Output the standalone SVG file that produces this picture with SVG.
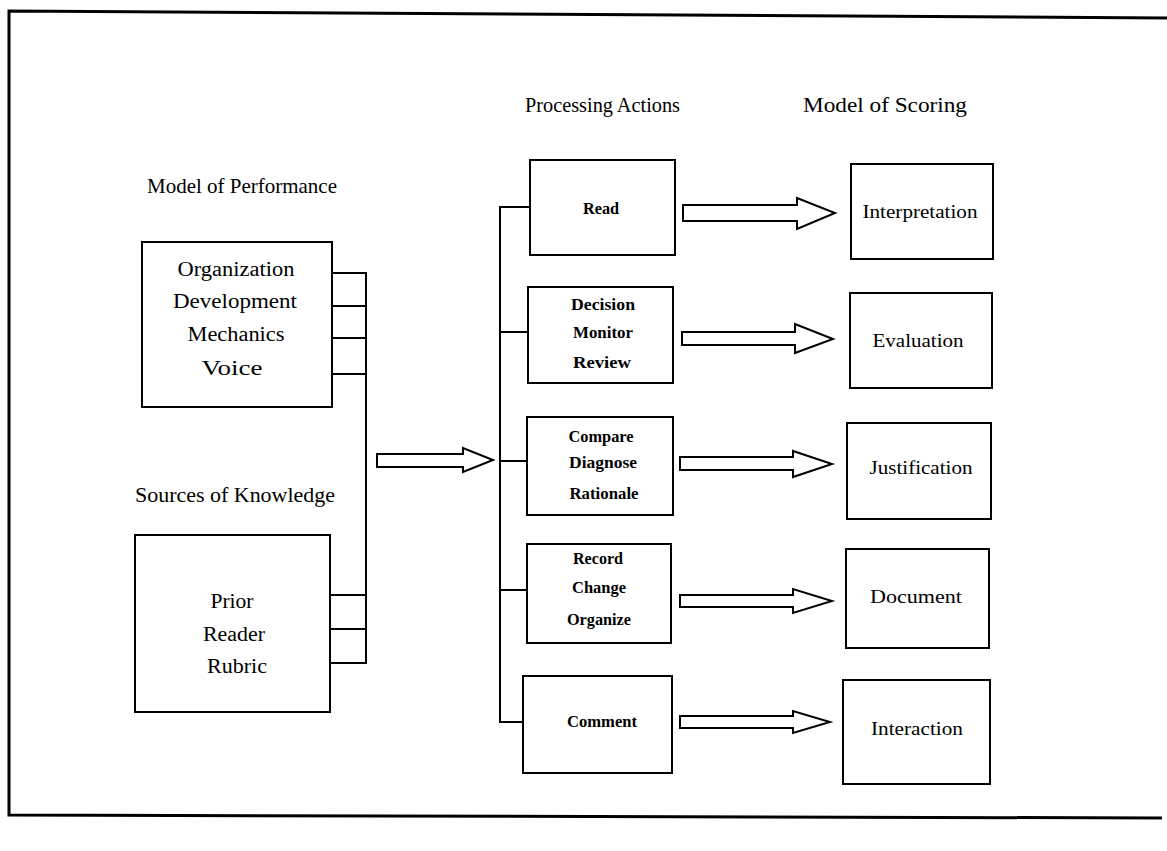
<svg xmlns="http://www.w3.org/2000/svg" width="1167" height="851" viewBox="0 0 1167 851" font-family="'Liberation Serif', 'DejaVu Serif', serif">
<style>
  .box { fill: #fff; stroke: #000; stroke-width: 2; }
  .ln { fill: none; stroke: #000; stroke-width: 2; }
  .arr { fill: #fff; stroke: #000; stroke-width: 2; stroke-linejoin: miter; }
  .frame { fill: none; stroke: #000; stroke-width: 3; }
  text { font-family: 'Liberation Serif', 'DejaVu Serif', serif; fill: #000; }
  .h { font-size: 21px; }
  .l { font-size: 20px; text-anchor: middle; }
  .p { font-size: 16px; text-anchor: middle; font-weight: bold; }
  .s { font-size: 19px; text-anchor: middle; }
</style>
<rect width="1167" height="851" fill="#fff"/>
<g id="frame">
  <polyline class="frame" points="1167,18 9,11 9,815 1162,818"/>
</g>
<g id="headers">
  <text class="h" x="525" y="112" textLength="155" lengthAdjust="spacingAndGlyphs">Processing Actions</text>
  <text class="h" x="803" y="112" textLength="164" lengthAdjust="spacingAndGlyphs">Model of Scoring</text>
  <text class="h" x="147" y="193" textLength="190" lengthAdjust="spacingAndGlyphs">Model of Performance</text>
  <text class="h" x="135" y="502" textLength="200" lengthAdjust="spacingAndGlyphs">Sources of Knowledge</text>
</g>
<g id="performance">
  <rect class="box" x="142" y="242" width="190" height="165"/>
  <text class="l" x="236" y="276" textLength="117" lengthAdjust="spacingAndGlyphs">Organization</text>
  <text class="l" x="235" y="308" textLength="124" lengthAdjust="spacingAndGlyphs">Development</text>
  <text class="l" x="236" y="341" textLength="97" lengthAdjust="spacingAndGlyphs">Mechanics</text>
  <text class="l" x="232" y="375" textLength="61" lengthAdjust="spacingAndGlyphs">Voice</text>
</g>
<g id="knowledge">
  <rect class="box" x="135" y="535" width="195" height="177"/>
  <text class="l" x="232" y="608" textLength="43" lengthAdjust="spacingAndGlyphs">Prior</text>
  <text class="l" x="234" y="641" textLength="62" lengthAdjust="spacingAndGlyphs">Reader</text>
  <text class="l" x="237" y="673" textLength="60" lengthAdjust="spacingAndGlyphs">Rubric</text>
</g>
<g id="connectors">
  <polyline class="ln" points="332,273 366,273 366,663 330,663"/>
  <line class="ln" x1="332" y1="306" x2="366" y2="306"/>
  <line class="ln" x1="332" y1="338" x2="366" y2="338"/>
  <line class="ln" x1="332" y1="374" x2="366" y2="374"/>
  <line class="ln" x1="330" y1="595" x2="366" y2="595"/>
  <line class="ln" x1="330" y1="629" x2="366" y2="629"/>
  <polyline class="ln" points="530,207 500,207 500,722 523,722"/>
  <line class="ln" x1="500" y1="332" x2="528" y2="332"/>
  <line class="ln" x1="500" y1="461" x2="527" y2="461"/>
  <line class="ln" x1="500" y1="590" x2="527" y2="590"/>
  <polygon class="arr" points="377,454 463,454 463,448 493,460 463,472 463,467 377,467"/>
  <polygon class="arr" points="683,205 797,205 797,198 835,213 797,229 797,221 683,221"/>
  <polygon class="arr" points="682,332 795,332 795,324 833,339 795,353 795,345 682,345"/>
  <polygon class="arr" points="680,457 793,457 793,451 832,464 793,477 793,470 680,470"/>
  <polygon class="arr" points="680,595 793,595 793,589 832,601 793,613 793,607 680,607"/>
  <polygon class="arr" points="680,716 793,716 793,711 830,722 793,733 793,728 680,728"/>
</g>
<g id="read">
  <rect class="box" x="530" y="160" width="145" height="95"/>
  <text class="p" x="601" y="214" textLength="36" lengthAdjust="spacingAndGlyphs">Read</text>
</g>
<g id="decision">
  <rect class="box" x="528" y="287" width="145" height="96"/>
  <text class="p" x="603" y="310" textLength="64" lengthAdjust="spacingAndGlyphs">Decision</text>
  <text class="p" x="603" y="338" textLength="60" lengthAdjust="spacingAndGlyphs">Monitor</text>
  <text class="p" x="602" y="368" textLength="58" lengthAdjust="spacingAndGlyphs">Review</text>
</g>
<g id="compare">
  <rect class="box" x="527" y="417" width="146" height="98"/>
  <text class="p" x="601" y="442" textLength="65" lengthAdjust="spacingAndGlyphs">Compare</text>
  <text class="p" x="603" y="468" textLength="68" lengthAdjust="spacingAndGlyphs">Diagnose</text>
  <text class="p" x="604" y="499" textLength="69" lengthAdjust="spacingAndGlyphs">Rationale</text>
</g>
<g id="record">
  <rect class="box" x="527" y="544" width="144" height="99"/>
  <text class="p" x="598" y="564" textLength="50" lengthAdjust="spacingAndGlyphs">Record</text>
  <text class="p" x="599" y="593" textLength="54" lengthAdjust="spacingAndGlyphs">Change</text>
  <text class="p" x="599" y="625" textLength="64" lengthAdjust="spacingAndGlyphs">Organize</text>
</g>
<g id="comment">
  <rect class="box" x="523" y="676" width="149" height="97"/>
  <text class="p" x="602" y="727" textLength="70" lengthAdjust="spacingAndGlyphs">Comment</text>
</g>
<g id="interpretation">
  <rect class="box" x="851" y="164" width="142" height="95"/>
  <text class="s" x="920" y="218" textLength="115" lengthAdjust="spacingAndGlyphs">Interpretation</text>
</g>
<g id="evaluation">
  <rect class="box" x="850" y="293" width="142" height="95"/>
  <text class="s" x="918" y="347" textLength="91" lengthAdjust="spacingAndGlyphs">Evaluation</text>
</g>
<g id="justification">
  <rect class="box" x="847" y="423" width="144" height="96"/>
  <text class="s" x="921" y="474" textLength="103" lengthAdjust="spacingAndGlyphs">Justification</text>
</g>
<g id="document">
  <rect class="box" x="846" y="549" width="143" height="99"/>
  <text class="s" x="916" y="603" textLength="92" lengthAdjust="spacingAndGlyphs">Document</text>
</g>
<g id="interaction">
  <rect class="box" x="843" y="680" width="147" height="104"/>
  <text class="s" x="917" y="735" textLength="92" lengthAdjust="spacingAndGlyphs">Interaction</text>
</g>
</svg>
